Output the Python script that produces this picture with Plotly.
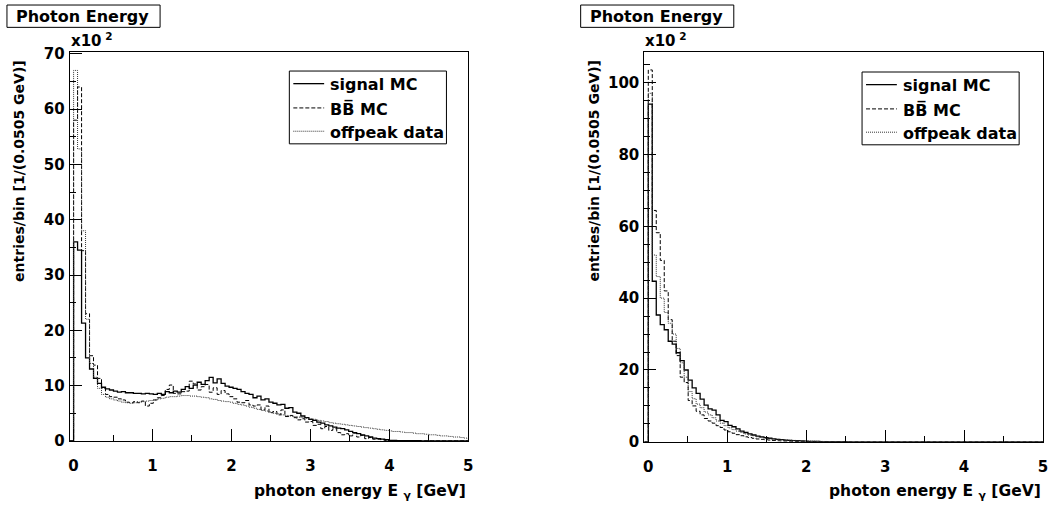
import plotly.graph_objects as go

# ---------------- data (entries per bin, in units of 10^2) ----------------
n_bins = 100
x_low = -0.05
bin_width = 0.0505

left_signal = [0, 36.0, 34.5, 21.3, 15.0, 13.0, 11.3, 10.4, 9.7, 9.4, 9.2,
               9.0, 8.8, 8.9, 8.7, 8.7, 8.6, 8.6, 8.5, 8.6, 8.5,
               8.4, 8.6, 8.4, 8.9, 8.7, 9.0, 8.8, 9.3, 9.8, 9.5,
               10.1, 10.6, 10.2, 10.9, 11.5, 10.5, 11.2, 10.4, 9.9, 9.7,
               9.5, 9.3, 8.9, 8.6, 8.4, 7.8, 8.1, 7.4, 7.6, 7.0,
               6.8, 6.5, 6.6, 5.9, 6.0, 5.2, 5.0, 4.5, 4.2, 3.9,
               3.7, 3.4, 3.2, 2.9, 2.7, 2.5, 2.3, 2.2, 2.0, 1.7,
               1.5, 1.3, 1.1, 0.9, 0.7, 0.5, 0.4, 0.3, 0.2, 0.1,
               0.08, 0.06, 0.05, 0.04, 0.03, 0.02, 0.02, 0.01, 0.01, 0,
               0, 0, 0, 0, 0, 0, 0, 0, 0]

left_bb = [0, 58.0, 64.0, 34.4, 23.0, 15.4, 13.7, 11.3, 9.5, 8.4, 8.0,
           7.9, 7.6, 7.4, 7.0, 6.9, 7.1, 6.9, 7.2, 6.3, 6.8,
           7.4, 7.8, 8.2, 9.3, 10.1, 8.6, 8.5, 8.9, 9.0, 10.8,
           10.3, 9.2, 9.8, 10.2, 8.8, 9.6, 8.4, 9.1, 8.5, 8.0,
           7.6, 7.0, 6.9, 7.3, 6.5, 6.3, 6.5, 5.6, 6.3, 5.1,
           5.3, 4.7, 5.6, 4.4, 4.6, 4.2, 3.8, 4.0, 3.4, 3.5,
           2.8, 3.0, 2.2, 2.6, 1.9, 2.2, 1.5, 1.1, 1.3, 0.9,
           1.4, 0.7, 1.0, 0.4, 0.6, 0.3, 0.3, 0.2, 0.1, 0.05,
           0.03, 0.02, 0.01, 0, 0, 0, 0, 0, 0, 0,
           0, 0, 0, 0, 0, 0, 0, 0, 0]

left_offpeak = [0, 67.0, 52.8, 38.0, 22.0, 14.0, 11.5, 9.5, 8.4, 7.9, 7.6,
                7.4, 7.2, 7.0, 6.9, 6.8, 6.9, 7.0, 7.1, 7.2, 7.3,
                7.4, 7.6, 7.7, 7.9, 8.0, 8.0, 8.1, 8.2, 8.2, 8.1,
                8.1, 8.0, 7.9, 7.8, 7.6, 7.5, 7.3, 7.2, 7.1, 7.0,
                6.8, 6.6, 6.5, 6.3, 6.1, 5.9, 5.7, 5.5, 5.4, 5.2,
                5.0, 4.9, 4.7, 4.6, 4.5, 4.4, 4.3, 4.2, 4.1, 4.0,
                3.9, 3.7, 3.6, 3.5, 3.3, 3.2, 3.1, 3.0, 2.9, 2.8,
                2.7, 2.6, 2.5, 2.4, 2.3, 2.2, 2.1, 2.0, 1.9, 1.8,
                1.7, 1.7, 1.6, 1.5, 1.5, 1.4, 1.3, 1.3, 1.2, 1.1,
                1.1, 1.0, 0.9, 0.9, 0.8, 0.7, 0.7, 0.6, 0.5]

right_signal = [0, 94.0, 44.7, 35.3, 32.6, 31.2, 28.0, 27.2, 24.8, 22.6, 20.0,
                17.2, 15.0, 13.5, 11.9, 10.2, 9.2, 8.8, 7.5, 6.0, 5.6,
                4.6, 4.2, 3.6, 3.0, 2.6, 2.2, 1.9, 1.6, 1.4, 1.2,
                1.0, 0.85, 0.7, 0.6, 0.5, 0.4, 0.35, 0.3, 0.25, 0.2,
                0.15, 0.12, 0.1, 0.08, 0.06, 0.05, 0.04, 0.03, 0.02, 0.02,
                0.01, 0.01, 0, 0, 0, 0, 0, 0, 0, 0,
                0, 0, 0, 0, 0, 0, 0, 0, 0, 0,
                0, 0, 0, 0, 0, 0, 0, 0, 0, 0,
                0, 0, 0, 0, 0, 0, 0, 0, 0, 0,
                0, 0, 0, 0, 0, 0, 0, 0, 0]

right_bb = [0, 103.5, 64.4, 58.2, 50.5, 42.0, 34.0, 28.0, 24.0, 18.0, 16.5,
            11.5, 10.0, 8.5, 7.5, 6.5, 5.8, 5.2, 4.5, 4.0, 3.3,
            2.8, 2.4, 2.0, 1.7, 1.4, 1.2, 1.0, 0.8, 0.7, 0.6,
            0.5, 0.4, 0.3, 0.25, 0.2, 0.15, 0.12, 0.1, 0.08, 0.06,
            0.05, 0.04, 0.03, 0.02, 0.02, 0.01, 0, 0, 0, 0,
            0, 0, 0, 0, 0, 0, 0, 0, 0, 0,
            0, 0, 0, 0, 0, 0, 0, 0, 0, 0,
            0, 0, 0, 0, 0, 0, 0, 0, 0, 0,
            0, 0, 0, 0, 0, 0, 0, 0, 0, 0,
            0, 0, 0, 0, 0, 0, 0, 0, 0]

right_offpeak = [0, 97.0, 52.0, 46.0, 40.0, 36.0, 33.0, 30.0, 26.0, 22.0, 18.0,
                 14.0, 12.0, 10.5, 9.5, 8.3, 7.5, 6.7, 5.8, 5.2, 4.5,
                 3.9, 3.4, 3.0, 2.6, 2.2, 1.9, 1.7, 1.4, 1.2, 1.0,
                 0.9, 0.8, 0.7, 0.6, 0.5, 0.45, 0.4, 0.35, 0.3, 0.25,
                 0.2, 0.18, 0.15, 0.12, 0.1, 0.08, 0.06, 0.05, 0.04, 0.03,
                 0.02, 0.02, 0.01, 0.01, 0, 0, 0, 0, 0, 0,
                 0, 0, 0, 0, 0, 0, 0, 0, 0, 0,
                 0, 0, 0, 0, 0, 0, 0, 0, 0, 0,
                 0, 0, 0, 0, 0, 0, 0, 0, 0, 0,
                 0, 0, 0, 0, 0, 0, 0, 0, 0]

series_names = ["signal MC", "BB\u0305 MC", "offpeak data"]
title_text = "Photon Energy"
x_title = "photon energy E <sub>\u03b3</sub> [GeV]"
y_title = "entries/bin [1/(0.0505 GeV)]"
x_ticks = [0, 1, 2, 3, 4, 5]

# ---------------- layout helpers ----------------
W, H = 1050, 512
FONT = "DejaVu Sans"


def fx(px):
    return px / W


def fy(py):
    return 1 - py / H


edges = [x_low + bin_width * i for i in range(n_bins + 1)]


def step_xy(values):
    xs = [edges[0]] + edges[:n_bins] + [edges[n_bins], edges[n_bins]]
    ys = [0] + list(values) + [values[-1], 0]
    return xs, ys


styles = [dict(color="black", width=1.3, dash="solid"),
          dict(color="black", width=1, dash="4px,2px"),
          dict(color="#333333", width=1, dash="1px,1px")]

fig = go.Figure()

panels = [
    dict(vals=[left_signal, left_bb, left_offpeak], xa="x", ya="y",
         x0=69, x1=470, y0=47, y1=448, ymax=70.4, dtick=10, minor=5),
    dict(vals=[right_signal, right_bb, right_offpeak], xa="x2", ya="y2",
         x0=647, x1=1048, y0=47, y1=449, ymax=108.6, dtick=20, minor=5),
]

for p in panels:
    for vals, st, name in zip(p["vals"], styles, series_names):
        xs, ys = step_xy(vals)
        fig.add_trace(go.Scatter(x=xs, y=ys, mode="lines", line_shape="hv",
                                 line=st, name=name, showlegend=False,
                                 xaxis=p["xa"], yaxis=p["ya"], hoverinfo="skip"))

tickfont = dict(family=FONT, size=15, color="black", weight="bold")
common_x = dict(range=[x_low, x_low + bin_width * n_bins], tickvals=x_ticks,
                ticks="inside", ticklen=12, tickwidth=1, tickcolor="black",
                minor=dict(dtick=0.5, ticks="inside", ticklen=6, tickcolor="black", tickwidth=1),
                showline=True, linecolor="black", linewidth=1, mirror=True,
                showgrid=False, zeroline=False, tickfont=tickfont, ticklabelstandoff=11)

layout_axes = {}
for i, p in enumerate(panels):
    sfx = "" if i == 0 else str(i + 1)
    layout_axes["xaxis" + sfx] = dict(common_x, domain=[fx(p["x0"]), fx(p["x1"])],
                                      anchor="y" + sfx)
    layout_axes["yaxis" + sfx] = dict(range=[0, p["ymax"]], dtick=p["dtick"], tick0=0,
                                      ticks="inside", ticklen=12, tickwidth=1, tickcolor="black",
                                      minor=dict(dtick=p["minor"], ticks="inside", ticklen=6,
                                                 tickcolor="black", tickwidth=1),
                                      showline=True, linecolor="black", linewidth=1, mirror=True,
                                      showgrid=False, zeroline=False, tickfont=tickfont,
                                      ticklabelstandoff=1,
                                      domain=[fy(p["y1"]), fy(p["y0"])], anchor="x" + sfx)

shapes = []
annotations = []
legend_boxes = [(290, 67, 448, 142), (866, 68, 1024, 143)]
title_boxes = [(6, -1, 160, 22), (583, -1, 737, 22)]
for i, p in enumerate(panels):
    # title box
    tb = title_boxes[i]
    shapes.append(dict(type="rect", xref="paper", yref="paper",
                       x0=fx(tb[0]), x1=fx(tb[2]), y0=fy(tb[3]), y1=fy(tb[1]),
                       line=dict(color="black", width=1), fillcolor="white", layer="above"))
    annotations.append(dict(text=title_text, xref="paper", yref="paper",
                            x=fx(tb[0] + 7), y=fy(10.5), xanchor="left", yanchor="middle",
                            showarrow=False, font=dict(family=FONT, size=16, color="black", weight="bold")))
    # x10^2
    annotations.append(dict(text="x10<sup> 2</sup>", xref="paper", yref="paper",
                            x=fx(p["x0"] - 1), y=fy(47), xanchor="left", yanchor="bottom",
                            showarrow=False, font=dict(family=FONT, size=15, color="black", weight="bold")))
    # axis titles
    annotations.append(dict(text=x_title, xref="paper", yref="paper",
                            x=fx(p["x1"]), y=fy(501), xanchor="right", yanchor="middle",
                            showarrow=False, font=dict(family=FONT, size=15.5, color="black", weight="bold")))
    annotations.append(dict(text=y_title, xref="paper", yref="paper", textangle=-90,
                            x=fx(p["x0"] - 51), y=fy(170), xanchor="center", yanchor="middle",
                            showarrow=False, font=dict(family=FONT, size=14, color="black", weight="bold")))
    # legend
    lb = legend_boxes[i]
    shapes.append(dict(type="rect", xref="paper", yref="paper",
                       x0=fx(lb[0]), x1=fx(lb[2]), y0=fy(lb[3]), y1=fy(lb[1]),
                       line=dict(color="black", width=1), fillcolor="white", layer="above"))
    rows = [lb[1] + 13, lb[1] + 38, lb[1] + 62]
    for ry, st, name in zip(rows, styles, series_names):
        shapes.append(dict(type="line", xref="paper", yref="paper",
                           x0=fx(lb[0] + 4), x1=fx(lb[0] + 35), y0=fy(ry), y1=fy(ry),
                           line=st, layer="above"))
        annotations.append(dict(text=name, xref="paper", yref="paper",
                                x=fx(lb[0] + 39), y=fy(ry + 1), xanchor="left", yanchor="middle",
                                showarrow=False,
                                font=dict(family=FONT, size=16, color="black", weight="bold")))

fig.update_layout(width=W, height=H, margin=dict(l=0, r=0, t=0, b=0),
                  paper_bgcolor="white", plot_bgcolor="white",
                  shapes=shapes, annotations=annotations, showlegend=False,
                  **layout_axes)

fig.write_html("out.html")
